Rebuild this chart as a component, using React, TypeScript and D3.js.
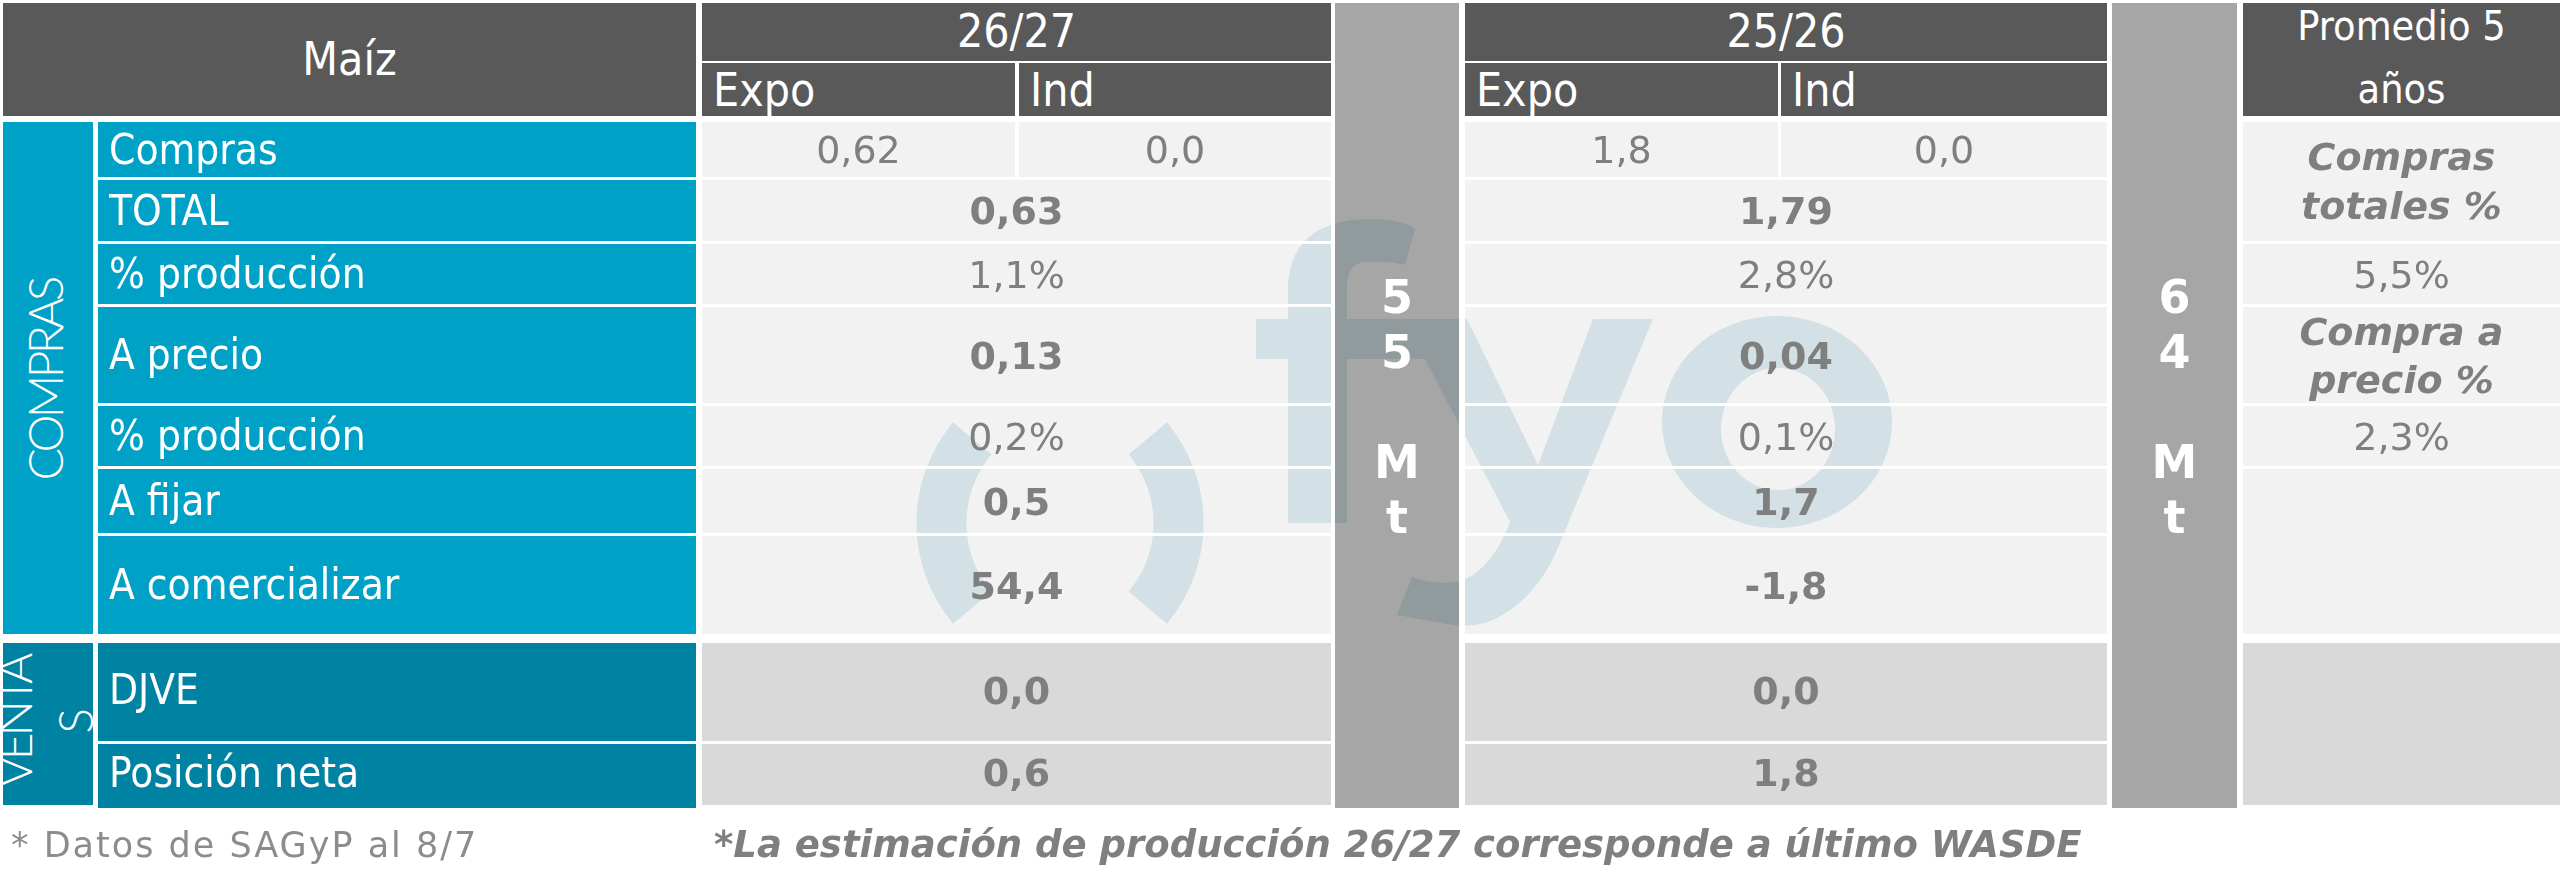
import React from "react";
import * as d3 from "d3";

// ---------------- DATA ----------------
const TITLE = "Maíz";
const SEASONS = ["26/27", "25/26"];
const SUBCOLS = ["Expo", "Ind"];
const COMPRAS_LABELS = ["Compras", "TOTAL", "% producción", "A precio", "% producción", "A fijar", "A comercializar"];
const VENTAS_LABELS = ["DJVE", "Posición neta"];
const SECTION_COMPRAS = "COMPRAS";
const SECTION_VENTAS = ["VENTA", "S"];
const COMPRAS_EXPO = ["0,62", "1,8"];
const COMPRAS_IND = ["0,0", "0,0"];
const TOTAL = ["0,63", "1,79"];
const PCT_TOTAL = ["1,1%", "2,8%"];
const A_PRECIO = ["0,13", "0,04"];
const PCT_PRECIO = ["0,2%", "0,1%"];
const A_FIJAR = ["0,5", "1,7"];
const A_COMERCIALIZAR = ["54,4", "-1,8"];
const DJVE = ["0,0", "0,0"];
const POSICION_NETA = ["0,6", "1,8"];
const PRODUCCION = ["55 Mt", "64 Mt"];
const PROMEDIO_HEADER = ["Promedio 5", "años"];
const PROMEDIO_TOTAL_LABEL = ["Compras", "totales %"];
const PROMEDIO_TOTAL = "5,5%";
const PROMEDIO_PRECIO_LABEL = ["Compra a", "precio %"];
const PROMEDIO_PRECIO = "2,3%";
const FOOT_LEFT = "* Datos de SAGyP al 8/7";
const FOOT_RIGHT = "*La estimación de producción 26/27 corresponde a último WASDE";

// ---------------- LAYOUT ----------------
const W = 2560, H = 879;
const HEAD_TOP = 3, BAND1_B = 61, BAND2_T = 63, HEAD_B = 116;
const COMPRAS_H = [55, 61, 60, 96, 60, 64, 98];
const VENTAS_H = [98, 61];
const BODY_TOP = 122, ROW_GAP = 3, SECTION_GAP = 9;
const COL_SEC: [number, number] = [3, 93];
const COL_LABEL: [number, number] = [98, 696];
const COL_SEASON: [number, number][] = [[702, 1331], [1465, 2107]];
const COL_SPLIT: [number, number][] = [[1015, 1019], [1778, 1781]];
const COL_BAR: [number, number][] = [[1335, 1459], [2112, 2237]];
const COL_PROM: [number, number] = [2243, 2560];
const BAR_BOTTOM = 808;

const C_HEAD = "#595959";
const C_BAR = "#a6a6a6";
const C_TEAL = "#00a1c6";
const C_TEAL_D = "#0082a2";
const C_CELL = "#f2f2f2";
const C_CELL_D = "#d9d9d9";
const C_VAL = "#7f7f7f";
const C_WM = "#dfeef3";
const LABEL_FONT = "'DejaVu Sans Condensed', 'DejaVu Sans', sans-serif";
const VALUE_FONT = "'DejaVu Sans', Verdana, sans-serif";
const SECTION_FONT = "Lato, 'Open Sans', sans-serif";

function rowsFrom(start: number, hs: number[]) {
  const ends = Array.from(d3.cumsum(hs.map((h) => h + ROW_GAP)));
  return hs.map((h, i) => {
    const y0 = start + (i === 0 ? 0 : ends[i - 1]);
    return { y0, y1: y0 + h };
  });
}

export default function App() {
  const comprasRows = rowsFrom(BODY_TOP, COMPRAS_H);
  const ventasTop = comprasRows[comprasRows.length - 1].y1 + SECTION_GAP;
  const ventasRows = rowsFrom(ventasTop, VENTAS_H);
  const comprasEnd = comprasRows[comprasRows.length - 1].y1;
  const ventasEnd = ventasRows[ventasRows.length - 1].y1;

  const mid = (a: number, b: number) => (a + b) / 2;
  const base = (y0: number, y1: number, fs: number) => mid(y0, y1) + fs * 0.36;

  const mergedCompras: [number, string[], boolean][] = [
    [1, TOTAL, true],
    [2, PCT_TOTAL, false],
    [3, A_PRECIO, true],
    [4, PCT_PRECIO, false],
    [5, A_FIJAR, true],
    [6, A_COMERCIALIZAR, true],
  ];
  const mergedVentas: [number, string[]][] = [
    [0, DJVE],
    [1, POSICION_NETA],
  ];

  const dataRects: { x0: number; x1: number; y0: number; y1: number }[] = [];
  COL_SEASON.forEach(([x0, x1], s) => {
    dataRects.push({ x0, x1: COL_SPLIT[s][0], y0: comprasRows[0].y0, y1: comprasRows[0].y1 });
    dataRects.push({ x0: COL_SPLIT[s][1], x1, y0: comprasRows[0].y0, y1: comprasRows[0].y1 });
    comprasRows.slice(1).forEach((r) => dataRects.push({ x0, x1, y0: r.y0, y1: r.y1 }));
  });
  COL_BAR.slice(0, 1).forEach(([x0, x1]) => dataRects.push({ x0, x1, y0: HEAD_TOP, y1: BAR_BOTTOM }));

  // watermark shapes
  const rParen = 131.6;
  const parenArc = d3.arc<any>().innerRadius(rParen - 25).outerRadius(rParen + 25);
  const toRad = (d: number) => (d * Math.PI) / 180;
  const leftParen = parenArc({ startAngle: toRad(-130), endAngle: toRad(-50) } as any) as string;
  const rightParen = parenArc({ startAngle: toRad(50), endAngle: toRad(130) } as any) as string;

  const fPath = d3.path();
  fPath.moveTo(1288, 523);
  fPath.lineTo(1288, 290);
  fPath.bezierCurveTo(1288, 245, 1315, 219, 1370, 219);
  fPath.bezierCurveTo(1390, 219, 1405, 222, 1415, 229);
  fPath.lineTo(1405, 265);
  fPath.bezierCurveTo(1395, 262, 1380, 261, 1365, 262);
  fPath.bezierCurveTo(1352, 263, 1347, 272, 1347, 290);
  fPath.lineTo(1347, 523);
  fPath.closePath();

  const yPath = d3.path();
  yPath.moveTo(1256, 319);
  yPath.lineTo(1467, 319);
  yPath.lineTo(1538, 465);
  yPath.lineTo(1593, 319);
  yPath.lineTo(1653, 319);
  yPath.lineTo(1557, 550);
  yPath.bezierCurveTo(1545, 578, 1525, 605, 1493, 620);
  yPath.bezierCurveTo(1480, 626, 1465, 626, 1453, 625);
  yPath.lineTo(1397, 615);
  yPath.lineTo(1412, 577);
  yPath.bezierCurveTo(1425, 582, 1440, 584, 1455, 582);
  yPath.bezierCurveTo(1480, 578, 1500, 550, 1510, 522);
  yPath.lineTo(1425, 359);
  yPath.lineTo(1256, 359);
  yPath.closePath();

  const oPath =
    "M1662,422 A115,106 0 1,0 1892,422 A115,106 0 1,0 1662,422 Z " +
    "M1721,429 A57,61 0 1,1 1835,429 A57,61 0 1,1 1721,429 Z";

  const valFs = 38;
  const labFs = 42;
  const headFs = 46;

  return (
    <svg
      width={W}
      height={H}
      viewBox={`0 0 ${W} ${H}`}
      style={{ position: "absolute", left: 0, top: 0, background: "#fff" }}
    >
      <defs>
        <clipPath id="wmClip">
          {dataRects.map((r, i) => (
            <rect key={i} x={r.x0} y={r.y0} width={r.x1 - r.x0} height={r.y1 - r.y0} />
          ))}
        </clipPath>
      </defs>
      <rect x={0} y={0} width={W} height={H} fill="#fff" />

      {/* ---------- header ---------- */}
      <rect x={COL_SEC[0]} y={HEAD_TOP} width={COL_LABEL[1] - COL_SEC[0]} height={HEAD_B - HEAD_TOP} fill={C_HEAD} />
      <text x={mid(COL_SEC[0], COL_LABEL[1])} y={75} fill="#fff" fontFamily={LABEL_FONT} fontStretch="condensed" fontSize={headFs} textAnchor="middle">
        {TITLE}
      </text>
      {COL_SEASON.map(([x0, x1], s) => (
        <g key={"h" + s}>
          <rect x={x0} y={HEAD_TOP} width={x1 - x0} height={BAND1_B - HEAD_TOP} fill={C_HEAD} />
          <text x={mid(x0, x1)} y={47} fill="#fff" fontFamily={LABEL_FONT} fontStretch="condensed" fontSize={headFs} textAnchor="middle">
            {SEASONS[s]}
          </text>
          <rect x={x0} y={BAND2_T} width={COL_SPLIT[s][0] - x0} height={HEAD_B - BAND2_T} fill={C_HEAD} />
          <rect x={COL_SPLIT[s][1]} y={BAND2_T} width={x1 - COL_SPLIT[s][1]} height={HEAD_B - BAND2_T} fill={C_HEAD} />
          <text x={x0 + 11} y={106} fill="#fff" fontFamily={LABEL_FONT} fontStretch="condensed" fontSize={headFs}>
            {SUBCOLS[0]}
          </text>
          <text x={COL_SPLIT[s][1] + 11} y={106} fill="#fff" fontFamily={LABEL_FONT} fontStretch="condensed" fontSize={headFs}>
            {SUBCOLS[1]}
          </text>
        </g>
      ))}
      <rect x={COL_PROM[0]} y={HEAD_TOP} width={COL_PROM[1] - COL_PROM[0]} height={HEAD_B - HEAD_TOP} fill={C_HEAD} />
      {PROMEDIO_HEADER.map((t, i) => (
        <text key={t} x={mid(COL_PROM[0], COL_PROM[1])} y={i === 0 ? 40 : 103} fill="#fff" fontFamily={LABEL_FONT} fontStretch="condensed" fontSize={41} textAnchor="middle">
          {t}
        </text>
      ))}

      {/* ---------- gray production bars ---------- */}
      {COL_BAR.map(([x0, x1], s) => (
        <rect key={"bar" + s} x={x0} y={HEAD_TOP} width={x1 - x0} height={BAR_BOTTOM - HEAD_TOP} fill={C_BAR} />
      ))}

      {/* ---------- section columns ---------- */}
      <rect x={COL_SEC[0]} y={BODY_TOP} width={COL_SEC[1] - COL_SEC[0]} height={comprasEnd - BODY_TOP} fill={C_TEAL} />
      <rect x={COL_SEC[0]} y={ventasTop} width={COL_SEC[1] - COL_SEC[0]} height={ventasEnd - ventasTop} fill={C_TEAL_D} />

      {/* ---------- label cells ---------- */}
      {comprasRows.map((r, i) => (
        <rect key={"lc" + i} x={COL_LABEL[0]} y={r.y0} width={COL_LABEL[1] - COL_LABEL[0]} height={r.y1 - r.y0} fill={C_TEAL} />
      ))}
      {ventasRows.map((r, i) => (
        <rect key={"lv" + i} x={COL_LABEL[0]} y={r.y0} width={COL_LABEL[1] - COL_LABEL[0]} height={(i === ventasRows.length - 1 ? r.y1 + 3 : r.y1) - r.y0} fill={C_TEAL_D} />
      ))}

      {/* ---------- data cells ---------- */}
      {COL_SEASON.map(([x0, x1], s) => (
        <g key={"d" + s}>
          <rect x={x0} y={comprasRows[0].y0} width={COL_SPLIT[s][0] - x0} height={comprasRows[0].y1 - comprasRows[0].y0} fill={C_CELL} />
          <rect x={COL_SPLIT[s][1]} y={comprasRows[0].y0} width={x1 - COL_SPLIT[s][1]} height={comprasRows[0].y1 - comprasRows[0].y0} fill={C_CELL} />
          {mergedCompras.map(([ri]) => (
            <rect key={"m" + ri} x={x0} y={comprasRows[ri].y0} width={x1 - x0} height={comprasRows[ri].y1 - comprasRows[ri].y0} fill={C_CELL} />
          ))}
          {mergedVentas.map(([ri]) => (
            <rect key={"v" + ri} x={x0} y={ventasRows[ri].y0} width={x1 - x0} height={ventasRows[ri].y1 - ventasRows[ri].y0} fill={C_CELL_D} />
          ))}
        </g>
      ))}

      {/* ---------- promedio column ---------- */}
      <rect x={COL_PROM[0]} y={comprasRows[0].y0} width={COL_PROM[1] - COL_PROM[0]} height={comprasRows[1].y1 - comprasRows[0].y0} fill={C_CELL} />
      <rect x={COL_PROM[0]} y={comprasRows[2].y0} width={COL_PROM[1] - COL_PROM[0]} height={comprasRows[2].y1 - comprasRows[2].y0} fill={C_CELL} />
      <rect x={COL_PROM[0]} y={comprasRows[3].y0} width={COL_PROM[1] - COL_PROM[0]} height={comprasRows[3].y1 - comprasRows[3].y0} fill={C_CELL} />
      <rect x={COL_PROM[0]} y={comprasRows[4].y0} width={COL_PROM[1] - COL_PROM[0]} height={comprasRows[4].y1 - comprasRows[4].y0} fill={C_CELL} />
      <rect x={COL_PROM[0]} y={comprasRows[5].y0} width={COL_PROM[1] - COL_PROM[0]} height={comprasRows[6].y1 - comprasRows[5].y0} fill={C_CELL} />
      <rect x={COL_PROM[0]} y={ventasRows[0].y0} width={COL_PROM[1] - COL_PROM[0]} height={ventasEnd - ventasRows[0].y0} fill={C_CELL_D} />

      {/* ---------- watermark (multiplied over the cells) ---------- */}
      <g clipPath="url(#wmClip)" style={{ mixBlendMode: "multiply" }} fill={C_WM}>
        <path d={leftParen} transform="translate(1073,523)" />
        <path d={rightParen} transform="translate(1047,523)" />
        <path d={fPath.toString()} />
        <path d={yPath.toString()} />
        <path d={oPath} fillRule="evenodd" />
      </g>

      {/* ---------- section labels ---------- */}
      <text
        transform={`translate(63,${mid(BODY_TOP, comprasEnd)})rotate(-90)`}
        textAnchor="middle"
        fill="#fff"
        fontFamily={SECTION_FONT}
        fontWeight={300}
        fontSize={48}
        textLength={205}
        lengthAdjust="spacing"
      >
        {SECTION_COMPRAS}
      </text>
      <text
        transform={`translate(32,${mid(ventasTop, ventasEnd) - 4})rotate(-90)`}
        textAnchor="middle"
        fill="#fff"
        fontFamily={SECTION_FONT}
        fontWeight={300}
        fontSize={48}
        textLength={135}
        lengthAdjust="spacing"
      >
        {SECTION_VENTAS[0]}
      </text>
      <text
        transform={`translate(93,${mid(ventasTop, ventasEnd) - 3})rotate(-90)`}
        textAnchor="middle"
        fill="#fff"
        fontFamily={SECTION_FONT}
        fontWeight={300}
        fontSize={48}
      >
        {SECTION_VENTAS[1]}
      </text>

      {/* ---------- row labels ---------- */}
      {COMPRAS_LABELS.map((t, i) => (
        <text key={"cl" + i} x={COL_LABEL[0] + 11} y={base(comprasRows[i].y0, comprasRows[i].y1, labFs) - 1} fill="#fff" fontFamily={LABEL_FONT} fontStretch="condensed" fontSize={labFs}>
          {t}
        </text>
      ))}
      {VENTAS_LABELS.map((t, i) => (
        <text key={"vl" + i} x={COL_LABEL[0] + 11} y={base(ventasRows[i].y0, ventasRows[i].y1, labFs) - 3} fill="#fff" fontFamily={LABEL_FONT} fontStretch="condensed" fontSize={labFs}>
          {t}
        </text>
      ))}

      {/* ---------- values ---------- */}
      {COL_SEASON.map(([x0, x1], s) => (
        <g key={"vals" + s} fontFamily={VALUE_FONT} fontSize={valFs} fill={C_VAL} textAnchor="middle">
          <text x={mid(x0, COL_SPLIT[s][0])} y={base(comprasRows[0].y0, comprasRows[0].y1, valFs)}>
            {COMPRAS_EXPO[s]}
          </text>
          <text x={mid(COL_SPLIT[s][1], x1)} y={base(comprasRows[0].y0, comprasRows[0].y1, valFs)}>
            {COMPRAS_IND[s]}
          </text>
          {mergedCompras.map(([ri, vals, bold]) => (
            <text key={"mv" + ri} x={mid(x0, x1)} y={base(comprasRows[ri].y0, comprasRows[ri].y1, valFs)} fontWeight={bold ? "bold" : "normal"}>
              {vals[s]}
            </text>
          ))}
          {mergedVentas.map(([ri, vals]) => (
            <text key={"vv" + ri} x={mid(x0, x1)} y={base(ventasRows[ri].y0, ventasRows[ri].y1, valFs) - 2} fontWeight="bold">
              {vals[s]}
            </text>
          ))}
        </g>
      ))}

      {/* ---------- production in bars ---------- */}
      {COL_BAR.map(([x0, x1], s) => {
        const chars = PRODUCCION[s].split("");
        const pitch = 55;
        const first = mid(HEAD_TOP, BAR_BOTTOM) + 17 - ((chars.length - 1) / 2) * pitch;
        return (
          <g key={"pc" + s} fontFamily={VALUE_FONT} fontWeight="bold" fontSize={46} fill="#fff" textAnchor="middle">
            {chars.map((c, i) => (
              <text key={i} x={mid(x0, x1)} y={first + i * pitch}>
                {c}
              </text>
            ))}
          </g>
        );
      })}

      {/* ---------- promedio texts ---------- */}
      <g fontFamily={VALUE_FONT} fontSize={valFs} fill={C_VAL} textAnchor="middle">
        {PROMEDIO_TOTAL_LABEL.map((t, i) => (
          <text key={"pt" + i} x={mid(COL_PROM[0], COL_PROM[1])} y={mid(comprasRows[0].y0, comprasRows[1].y1) + 13 + (i - 0.5) * 49} fontWeight="bold" fontStyle="italic">
            {t}
          </text>
        ))}
        <text x={mid(COL_PROM[0], COL_PROM[1])} y={base(comprasRows[2].y0, comprasRows[2].y1, valFs)}>
          {PROMEDIO_TOTAL}
        </text>
        {PROMEDIO_PRECIO_LABEL.map((t, i) => (
          <text key={"pp" + i} x={mid(COL_PROM[0], COL_PROM[1])} y={mid(comprasRows[3].y0, comprasRows[3].y1) + 14 + (i - 0.5) * 48} fontWeight="bold" fontStyle="italic">
            {t}
          </text>
        ))}
        <text x={mid(COL_PROM[0], COL_PROM[1])} y={base(comprasRows[4].y0, comprasRows[4].y1, valFs)}>
          {PROMEDIO_PRECIO}
        </text>
      </g>

      {/* ---------- footers ---------- */}
      <text x={11} y={857} fill="#8c8c8c" fontFamily={VALUE_FONT} fontSize={35} letterSpacing={2}>
        {FOOT_LEFT}
      </text>
      <text x={714} y={857} fill={C_VAL} fontFamily={VALUE_FONT} fontSize={37} fontWeight="bold" fontStyle="italic">
        {FOOT_RIGHT}
      </text>
    </svg>
  );
}
